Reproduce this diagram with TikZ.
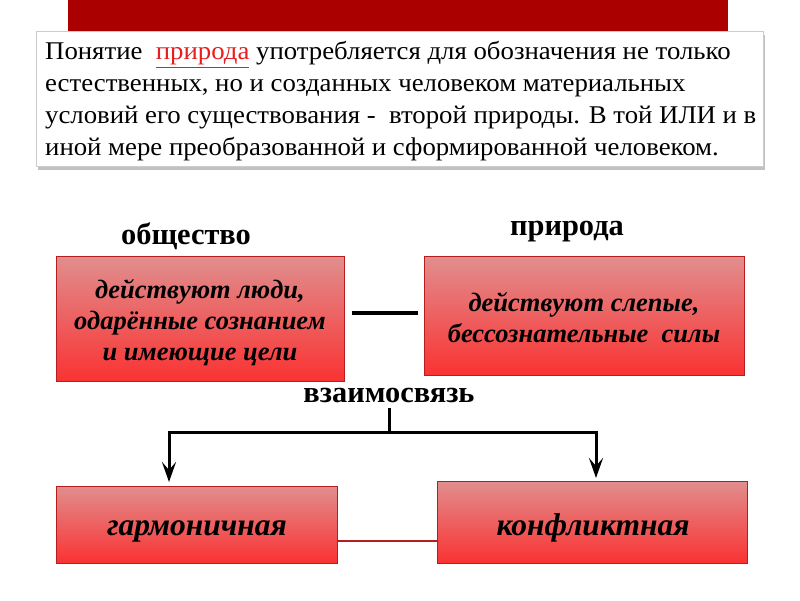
\documentclass[tikz,border=0pt]{standalone}
\usepackage{fontspec}
\setmainfont{Liberation Serif}
\newfontfamily\wideserif{Liberation Serif}[FakeStretch=1.05]
\usetikzlibrary{arrows.meta,shadows}
\definecolor{barred}{RGB}{170,0,0}
\definecolor{boxtop}{RGB}{225,142,142}
\definecolor{boxbot}{RGB}{250,50,50}
\definecolor{boxedge}{RGB}{180,30,30}
\definecolor{wordred}{RGB}{230,30,30}
\begin{document}
\begin{tikzpicture}[x=1pt,y=-1pt,
  redbox/.style={draw=boxedge, line width=1pt, top color=boxtop, bottom color=boxbot, inner sep=0pt},
  boxtxt/.style={font=\bfseries\itshape\fontsize{26.5}{31}\selectfont, align=center, inner sep=0pt},
  bigtxt/.style={font=\bfseries\itshape\fontsize{31.5}{34}\selectfont, inner sep=0pt},
  headlbl/.style={font=\bfseries\fontsize{30.4}{32}\selectfont, inner sep=0pt},
  tree/.style={line width=3pt, black},
  arr/.style={tree, -{Stealth[length=20pt,width=14pt,inset=8pt]}}]
\useasboundingbox (0,0) rectangle (800,600);
\fill[white] (0,0) rectangle (800,600);
% top bar
\fill[barred] (68,0) rectangle (728,45);
% text box
\node[draw=gray!40, fill=white, line width=0.5pt, minimum width=727pt, minimum height=135pt,
      drop shadow={shadow xshift=1.5pt, shadow yshift=-4pt, fill=gray!80, opacity=0.6},
      inner sep=0pt] (tb) at (399.5,98.5) {};
\node[anchor=base west, align=left, inner sep=0pt, font=\wideserif\fontsize{25.5}{31.7}\selectfont]
  (tbtext) at (45,155) {Понятие\ \ {\color{wordred}\underline{природа}} употребляется для обозначения не только\\
естественных, но и созданных человеком материальных\\
условий его существования -\ \ второй природы. В той ИЛИ и в\\
иной мере преобразованной и сформированной человеком.};
% labels
\node[headlbl] (lsoc) at (186,236) {общество};
\node[headlbl] (lnat) at (567,232) {природа};
% boxes
\node[redbox, minimum width=288pt, minimum height=125pt] (b1) at (200,319) {};
\node[boxtxt] (t1) at (200,323) {действуют люди,\\ одарённые сознанием\\ и имеющие цели};
\node[redbox, minimum width=320pt, minimum height=119pt] (b2) at (584,316) {};
\node[boxtxt] (t2) at (584,317.5) {действуют слепые,\\ бессознательные\ \ силы};
\draw[line width=4pt, shorten <=7pt, shorten >=6pt] (b1.east |- 0,313) -- (b2.west |- 0,313);
\node[headlbl] (lrel) at (389,395) {взаимосвязь};
\coordinate (j) at (389,432);
\coordinate (jl) at (169,432);
\coordinate (jr) at (596,432);
\draw[tree] (lrel.south |- 0,408) -- (j);
\draw[tree, line cap=rect] (jl) -- (jr);
\draw[arr] (jl) -- (169,482);
\draw[arr] (jr) -- (596,478);
\node[redbox, minimum width=281pt, minimum height=77pt] (b3) at (196.5,524.5) {};
\node[bigtxt] (t3) at (197,531) {гармоничная};
\node[redbox, minimum width=310pt, minimum height=82pt] (b4) at (592,522) {};
\node[bigtxt] (t4) at (593,528) {конфликтная};
\draw[boxedge, line width=2pt] (b3.east |- 0,541) -- (b4.west |- 0,541);
\end{tikzpicture}
\end{document}
